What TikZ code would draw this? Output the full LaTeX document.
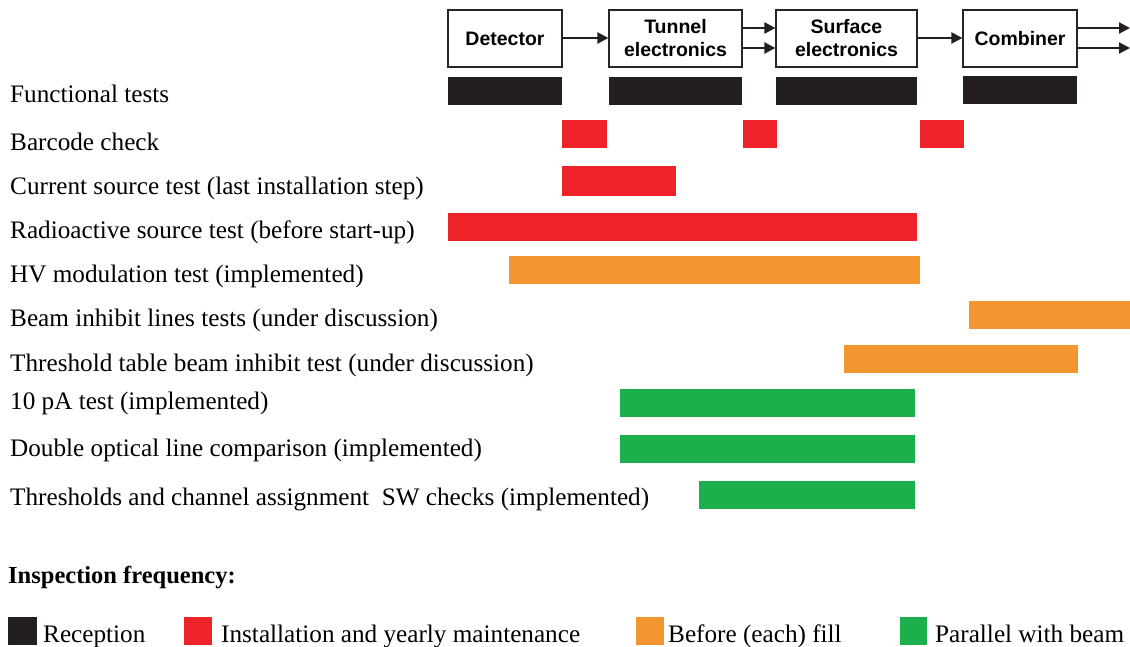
\documentclass[tikz,border=0pt]{standalone}
\usepackage{fontspec}
\setmainfont{Liberation Serif}
\newfontfamily\boxfont{Liberation Sans}
\usetikzlibrary{arrows.meta}
\definecolor{cblack}{HTML}{231F20}
\definecolor{cred}{HTML}{EE2229}
\definecolor{corange}{HTML}{F49630}
\definecolor{cgreen}{HTML}{1BB04B}
\tikzset{
  stage/.style={draw=black!85, line width=1.2pt, fill=white, inner sep=0pt, align=center,
    font=\boxfont\bfseries\fontsize{19.5}{23}\selectfont},
  arr/.style={line width=2.2pt, color=cblack, -{Triangle[length=11pt,width=11pt]}},
  lbl/.style={anchor=base west, inner sep=0pt, font=\fontsize{25.2}{28}\selectfont},
  bar/.style={fill=#1, draw=none},
}
\begin{document}
\begin{tikzpicture}[x=1pt,y=-1pt]
\useasboundingbox (0,0) rectangle (1130,647);
% stage boxes
\node[stage, minimum width=114pt, minimum height=57pt] (det) at (505,38.5) {Detector};
\node[stage, minimum width=133pt, minimum height=57pt] (tun) at (675.5,38.5) {Tunnel\\electronics};
\node[stage, minimum width=141pt, minimum height=57pt] (sur) at (846.5,38.5) {Surface\\electronics};
\node[stage, minimum width=114pt, minimum height=57pt] (com) at (1020,38.5) {Combiner};
\coordinate (out1) at (1130,28);
\coordinate (out2) at (1130,48);
% connectors
\draw[arr] (det.east |- 0,38) -- (tun.west |- 0,38);
\draw[arr] (tun.east |- 0,28) -- (sur.west |- 0,28);
\draw[arr] (tun.east |- 0,48) -- (sur.west |- 0,48);
\draw[arr] (sur.east |- 0,38) -- (com.west |- 0,38);
\draw[arr] (com.east |- out1) -- (out1);
\draw[arr] (com.east |- out2) -- (out2);
% row labels
\node[lbl] (l1) at (10,103) {Functional tests};
\node[lbl] (l2) at (10,151) {Barcode check};
\node[lbl] (l3) at (10,195) {Current source test (last installation step)};
\node[lbl] (l4) at (10,239) {Radioactive source test (before start-up)};
\node[lbl] (l5) at (10,283) {HV modulation test (implemented)};
\node[lbl] (l6) at (10,326) {Beam inhibit lines tests (under discussion)};
\node[lbl] (l7) at (10,371) {Threshold table beam inhibit test (under discussion)};
\node[lbl] (l8) at (10,409) {10 pA test (implemented)};
\node[lbl] (l9) at (10,456) {Double optical line comparison (implemented)};
\node[lbl] (l10) at (10,505) {Thresholds and channel assignment\ \ SW checks (implemented)};
% bars
\fill[bar=cblack] (448,77) rectangle (562,105);
\fill[bar=cblack] (609,77) rectangle (742,105);
\fill[bar=cblack] (776,77) rectangle (917,105);
\fill[bar=cblack] (963,76) rectangle (1077,104);
\fill[bar=cred] (562,120) rectangle (607,148);
\fill[bar=cred] (743,120) rectangle (777,148);
\fill[bar=cred] (920,120) rectangle (964,148);
\fill[bar=cred] (562,166) rectangle (676,196);
\fill[bar=cred] (448,213) rectangle (917,241);
\fill[bar=corange] (509,256) rectangle (920,284);
\fill[bar=corange] (969,301) rectangle (1130,329);
\fill[bar=corange] (844,345) rectangle (1078,373);
\fill[bar=cgreen] (620,389) rectangle (915,417);
\fill[bar=cgreen] (620,435) rectangle (915,463);
\fill[bar=cgreen] (699,481) rectangle (915,509);
% legend
\node[lbl, font=\bfseries\fontsize{24.5}{28}\selectfont] (lt) at (8,583) {Inspection frequency:};
\fill[bar=cblack] (8,617) rectangle (37,645);
\node[lbl] (k1) at (43,642) {Reception};
\fill[bar=cred] (184,617) rectangle (212,645);
\node[lbl] (k2) at (221,642) {Installation and yearly maintenance};
\fill[bar=corange] (636,617) rectangle (664,645);
\node[lbl] (k3) at (668,642) {Before (each) fill};
\fill[bar=cgreen] (900,617) rectangle (927,645);
\node[lbl] (k4) at (935,642) {Parallel with beam};
\end{tikzpicture}
\end{document}
